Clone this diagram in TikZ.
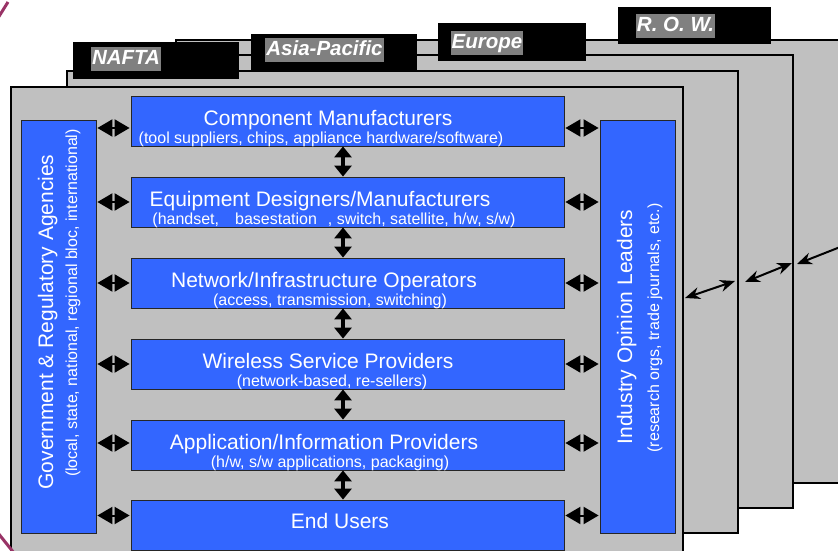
\documentclass[tikz,border=0pt]{standalone}
\usepackage{fontspec}
\setmainfont{Liberation Sans}
\usetikzlibrary{arrows.meta}
\definecolor{framegray}{HTML}{C0C0C0}
\definecolor{boxblue}{HTML}{3366FF}
\definecolor{tabgray}{HTML}{808080}
\definecolor{rim}{HTML}{993366}
\tikzset{region/.style = {draw, line width=2.4pt, fill=framegray},
         bluebox/.style = {draw=black!85, line width=0.8pt, fill=boxblue, inner sep=0pt},
         boxtitle/.style = {text=white, inner sep=0pt, font=\fontsize{21}{23}\selectfont},
         boxsub/.style = {text=white, inner sep=0pt, font=\fontsize{16}{18}\selectfont},
         tablabel/.style = {fill=tabgray, text=white, inner xsep=1pt, inner ysep=1.5pt,
                            text height=16pt, text depth=5pt,
                            font=\fontsize{20.5}{22}\selectfont\bfseries\itshape},
         hdbl/.style = {{Triangle[length=15pt,width=17pt]}-{Triangle[length=15pt,width=17pt]},
                        line width=2pt},
         vdbl/.style = {{Triangle[length=11pt,width=17pt]}-{Triangle[length=11pt,width=17pt]},
                        line width=4pt},
         link/.style = {{Stealth[length=15pt,width=12pt]}-{Stealth[length=15pt,width=12pt]},
                        line width=2pt}}

\begin{document}
\begin{tikzpicture}[x=1pt, y=-1pt]
      \useasboundingbox (0, 0) rectangle (838, 551);
      \clip (0, 0) rectangle (838, 551);
      \fill [white] (0, 0) rectangle (838, 551);

      % regions, back to front
      \draw [region] (176, 40) rectangle (870, 483);
      \draw [region] (120, 55) rectangle (793, 508);
      \draw [region] (67, 71) rectangle (738, 533);
      \draw [region] (11, 87) rectangle (683, 570);

      % tabs
      \fill (73, 42) rectangle (239, 79);
      \fill (251, 34) rectangle (417, 72);
      \fill (438, 23) rectangle (586, 61);
      \fill (618, 7) rectangle (771, 44);
      \node [tablabel] (nafta) at (126, 59.5) {NAFTA};
      \node [tablabel] (asia) at (324.5, 50.5) {Asia-Pacific};
      \node [tablabel] (europe) at (487, 43) {Europe};
      \node [tablabel] (row) at (675.5, 26.5) {R. O. W.};

      \draw [rim, line width=3pt] (-2, 18) -- (8, 2);
      \draw [rim, line width=3pt] (-2, 533) -- (14, 553);

      % side boxes
      \node [bluebox, minimum width=75pt, minimum height=413pt] (gov) at (58.5, 326.5) {};
      \node [bluebox, minimum width=75pt, minimum height=413pt] (iol) at (637.5, 326.5) {};
      \node [boxtitle, rotate=90, anchor=base] at (53, 322) {Government \& Regulatory Agencies};
      \node [boxsub, rotate=90, anchor=base] at (77, 303) {(local, state, national, regional bloc, international)};
      \node [boxtitle, rotate=90, anchor=base] at (632, 327) {Industry Opinion Leaders};
      \node [boxsub, rotate=90, anchor=base] at (659, 328) {(research orgs, trade journals, etc.)};

      % value chain
      \node [bluebox, minimum width=433pt, minimum height=50pt] (comp) at (347.5, 121) {};
      \node [bluebox, minimum width=433pt, minimum height=50pt] (equip) at (347.5, 202) {};
      \node [bluebox, minimum width=433pt, minimum height=50pt] (net) at (347.5, 283) {};
      \node [bluebox, minimum width=433pt, minimum height=50pt] (wsp) at (347.5, 364) {};
      \node [bluebox, minimum width=433pt, minimum height=50pt] (app) at (347.5, 445) {};
      \node [bluebox, minimum width=433pt, minimum height=50pt] (users) at (347.5, 525) {};

      \node [boxtitle, anchor=base] at (328, 125) {Component Manufacturers};
      \node [boxsub, anchor=base] at (321, 143) {(tool suppliers, chips, appliance hardware/software)};
      \node [boxtitle, anchor=base] at (320, 206) {Equipment Designers/Manufacturers};
      \node [boxsub, anchor=base] at (334, 224) {(handset,\hspace{16pt}basestation\hspace{11pt}, switch, satellite, h/w, s/w)};
      \node [boxtitle, anchor=base] at (324, 287) {Network/Infrastructure Operators};
      \node [boxsub, anchor=base] at (330, 305) {(access, transmission, switching)};
      \node [boxtitle, anchor=base] at (328, 368) {Wireless Service Providers};
      \node [boxsub, anchor=base] at (332, 386) {(network-based, re-sellers)};
      \node [boxtitle, anchor=base] at (324, 449) {Application/Information Providers};
      \node [boxsub, anchor=base] at (330, 467) {(h/w, s/w applications, packaging)};
      \node [boxtitle, anchor=base] at (340, 528) {End Users};

      \foreach \b/\dy in {comp/-7, equip/0, net/0, wsp/0, app/2, users/9.5} {
        \draw [hdbl, shorten <=1pt, shorten >=1pt] ([yshift=\dy pt]\b.west) -- ([yshift=\dy pt]\b.west -| gov.east);
        \draw [hdbl, shorten <=1pt, shorten >=1pt] ([yshift=\dy pt]\b.east) -- ([yshift=\dy pt]\b.east -| iol.west);
      }
      \foreach \a/\b in {comp/equip, equip/net, net/wsp, wsp/app, app/users} {
        \draw [vdbl] ([xshift=-4.5pt]\a.south) -- ([xshift=-4.5pt]\b.north);
      }

      % links between regions
      \coordinate (n1) at (685, 298);
      \coordinate (a1) at (735, 281);
      \coordinate (a2) at (745, 282);
      \coordinate (e1) at (792, 263);
      \coordinate (e2) at (797, 264);
      \coordinate (r1) at (858, 240);
      \draw [link] (n1) -- (a1);
      \draw [link] (a2) -- (e1);
      \draw [link] (e2) -- (r1);
    \end{tikzpicture}
\end{document}
